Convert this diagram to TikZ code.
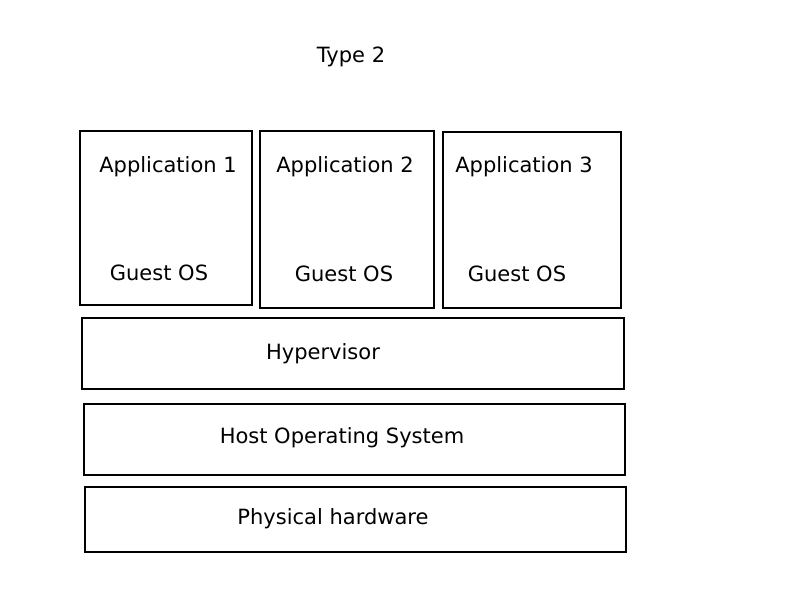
\documentclass[tikz,border=0pt]{standalone}
\usepackage{fontspec}
\setmainfont{DejaVu Sans}
\begin{document}
\begin{tikzpicture}[x=1pt,y=-1pt,
  box/.style={draw=black,line width=1.7pt,inner sep=0pt},
  lbl/.style={font=\fontsize{21}{25}\selectfont,inner sep=0pt,anchor=center}]
\useasboundingbox (0,0) rectangle (800,600);
\fill[white] (0,0) rectangle (800,600);
% boxes
\node[box,minimum width=172pt,minimum height=174pt] (app1) at (166,218) {};
\node[box,minimum width=174pt,minimum height=177pt] (app2) at (347,219.5) {};
\node[box,minimum width=178pt,minimum height=176pt] (app3) at (532,220) {};
\node[box,minimum width=542pt,minimum height=71pt] (hyp) at (353,353.5) {};
\node[box,minimum width=541pt,minimum height=71pt] (hos) at (354.5,439.5) {};
\node[box,minimum width=541pt,minimum height=65pt] (phw) at (355.5,519.5) {};
% texts
\node[lbl] (title) at (351,57) {Type 2};
\node[lbl] (a1) at (168,167) {Application 1};
\node[lbl] (a2) at (345,167) {Application 2};
\node[lbl] (a3) at (524,167) {Application 3};
\node[lbl] (g1) at (159,273) {Guest OS};
\node[lbl] (g2) at (344,274) {Guest OS};
\node[lbl] (g3) at (517,274) {Guest OS};
\node[lbl] (th) at (323,354) {Hypervisor};
\node[lbl] (to) at (342,438) {Host Operating System};
\node[lbl] (tp) at (333,519) {Physical hardware};
\end{tikzpicture}
\end{document}
